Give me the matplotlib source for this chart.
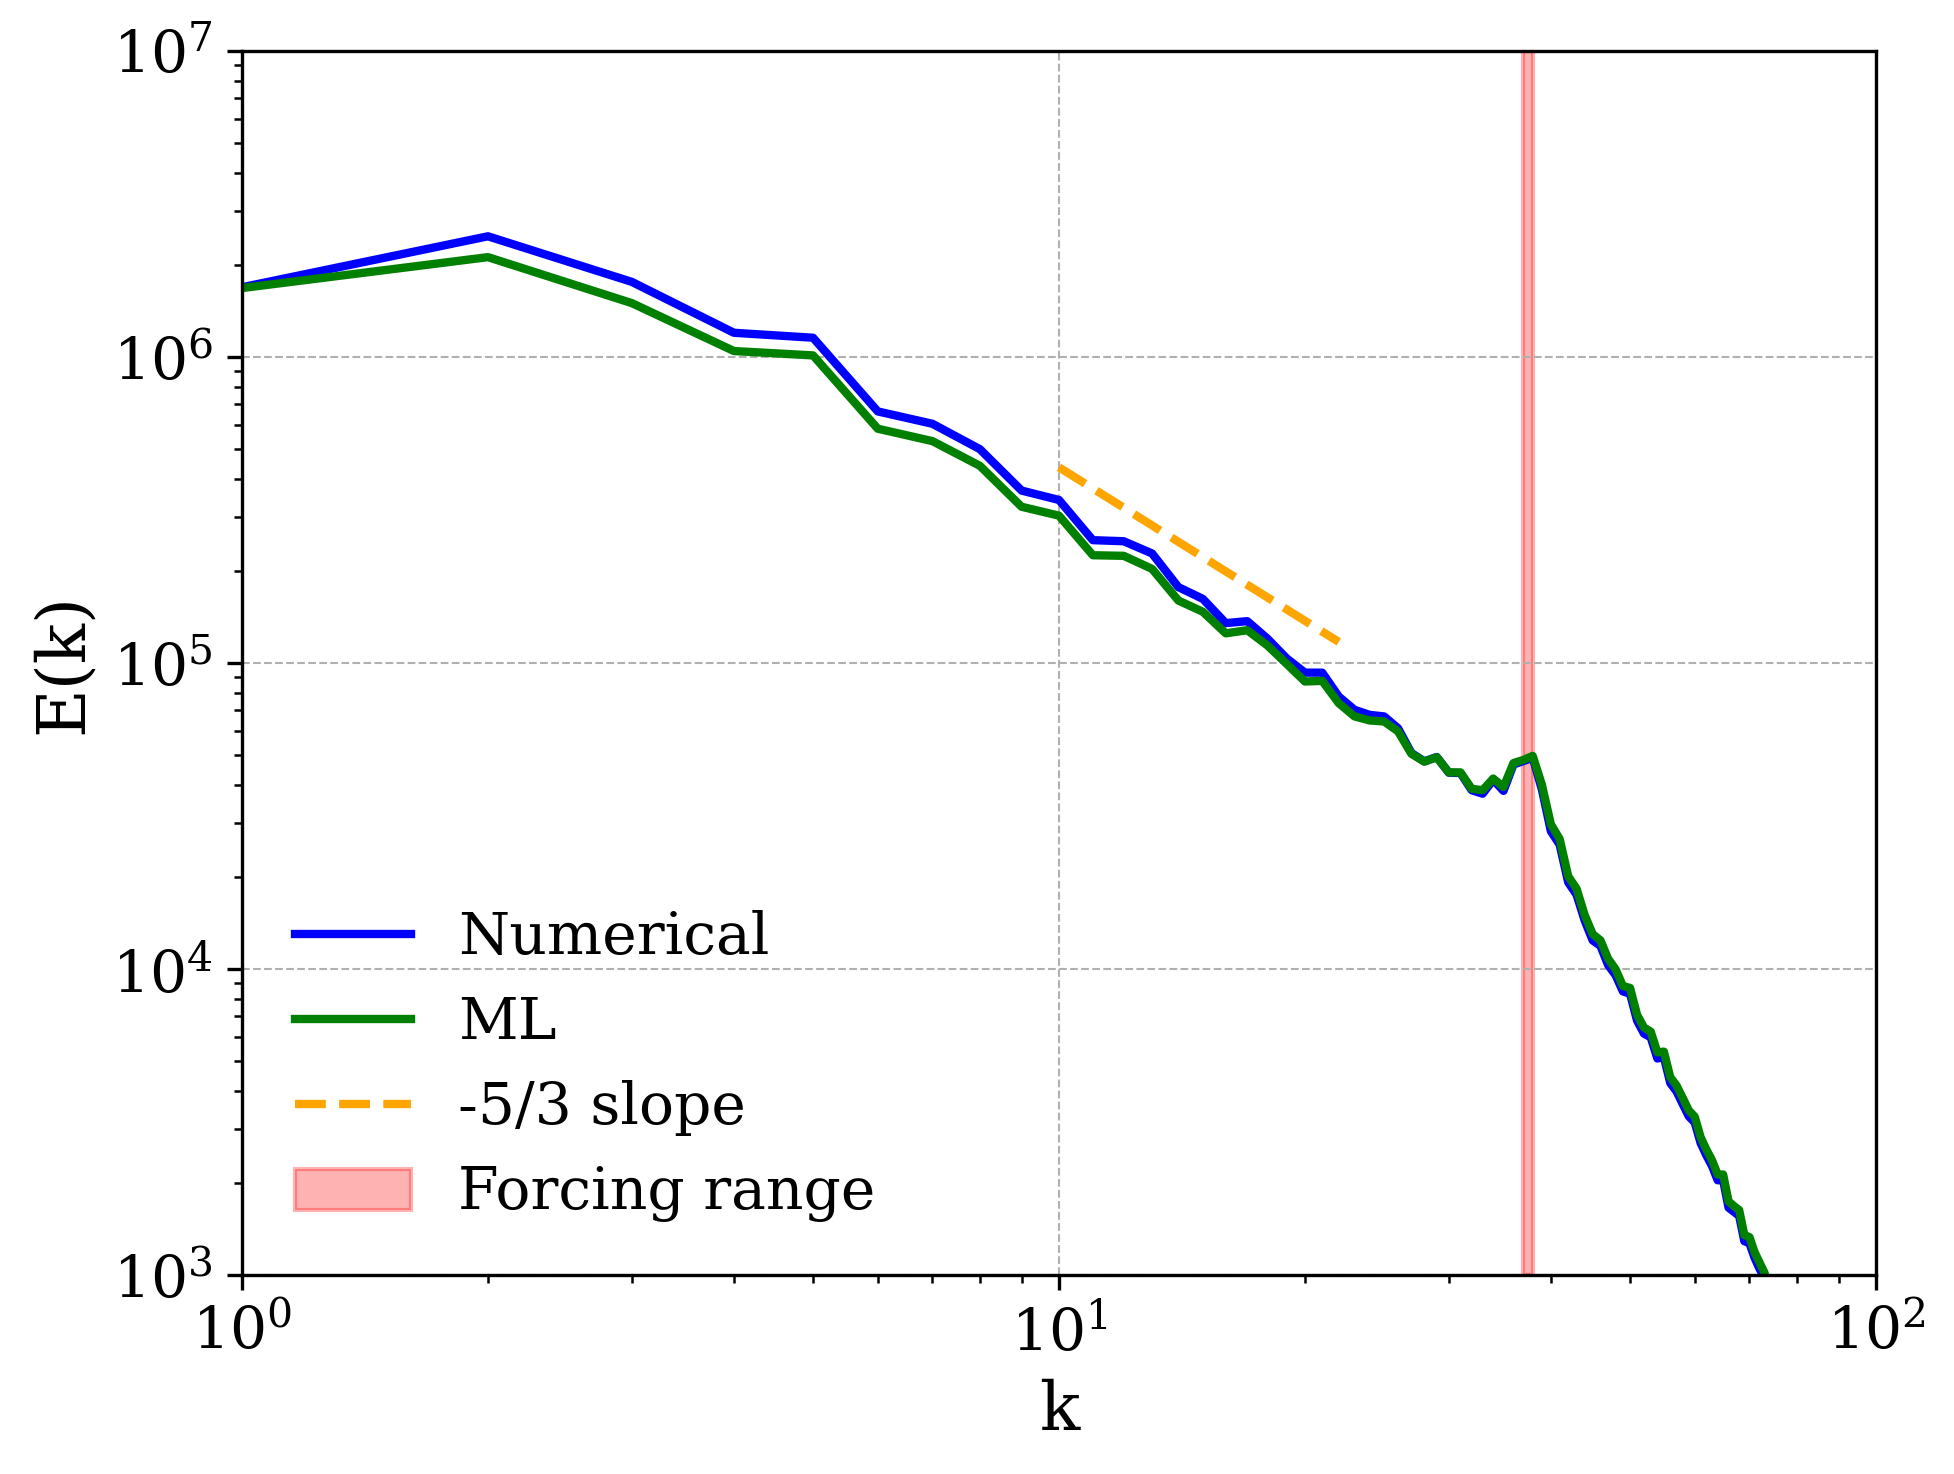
import numpy as np
import matplotlib
matplotlib.use("Agg")
import matplotlib.pyplot as plt

plt.rcParams['font.family'] = ['DejaVu Serif']
plt.rcParams['mathtext.fontset'] = 'dejavuserif'

# wavenumbers
k = np.arange(1, 76)

# ML energy spectrum E(k)
E_ml = [1.68e6, 2.12e6, 1.50e6, 1.046e6, 1.012e6, 5.83e5, 5.31e5, 4.41e5, 3.24e5, 3.03e5,
        2.25e5, 2.24e5, 2.03e5, 1.60e5, 1.47e5, 1.25e5, 1.28e5, 1.14e5, 9.93e4, 8.70e4,
        8.74e4, 7.39e4, 6.69e4, 6.49e4, 6.44e4, 5.98e4, 5.05e4, 4.76e4, 4.92e4, 4.39e4,
        4.39e4, 3.88e4, 3.84e4, 4.19e4, 3.93e4, 4.71e4, 4.82e4, 4.97e4, 4.00e4, 2.97e4,
        2.66e4, 2.01e4, 1.83e4, 1.50e4, 1.30e4, 1.24e4, 1.08e4, 9.98e3, 8.80e3, 8.67e3,
        7.08e3, 6.44e3, 6.24e3, 5.34e3, 5.37e3, 4.43e3, 4.16e3, 3.79e3, 3.45e3, 3.29e3,
        2.82e3, 2.57e3, 2.37e3, 2.13e3, 2.13e3, 1.74e3, 1.68e3, 1.63e3, 1.35e3, 1.33e3,
        1.19e3, 1.10e3, 1.02e3, 9.0e2, 8.0e2]

# Numerical energy spectrum E(k)
E_num = [1.69e6, 2.48e6, 1.76e6, 1.20e6, 1.156e6, 6.64e5, 6.05e5, 5.00e5, 3.66e5, 3.41e5,
         2.52e5, 2.50e5, 2.28e5, 1.77e5, 1.62e5, 1.35e5, 1.37e5, 1.20e5, 1.035e5, 9.30e4,
         9.30e4, 7.77e4, 7.03e4, 6.77e4, 6.69e4, 6.12e4, 5.08e4, 4.77e4, 4.93e4, 4.38e4,
         4.37e4, 3.84e4, 3.74e4, 4.15e4, 3.82e4, 4.66e4, 4.78e4, 4.90e4, 3.86e4, 2.82e4,
         2.55e4, 1.92e4, 1.75e4, 1.44e4, 1.24e4, 1.19e4, 1.03e4, 9.55e3, 8.45e3, 8.30e3,
         6.78e3, 6.15e3, 5.98e3, 5.10e3, 5.15e3, 4.24e3, 3.98e3, 3.62e3, 3.30e3, 3.15e3,
         2.70e3, 2.46e3, 2.27e3, 2.04e3, 2.04e3, 1.66e3, 1.61e3, 1.56e3, 1.29e3, 1.27e3,
         1.14e3, 1.05e3, 9.8e2, 8.6e2, 7.7e2]

# -5/3 reference line end points
slope_k = [10, 22]
slope_E = [4.36e5, 1.172e5]

# forcing range
forcing = [37, 38]

W, H, DPI = 1954, 1474, 300
fig = plt.figure(figsize=(W / DPI, H / DPI), dpi=DPI)
ax = fig.add_axes([242 / W, 1 - 1275 / H, (1876 - 242) / W, (1275 - 51) / H])

ax.loglog(k, E_num, color='blue', lw=2, label='Numerical')
ax.loglog(k, E_ml, color='green', lw=2, label='ML')
ax.loglog(slope_k, slope_E, color='orange', lw=2, ls='--', label='-5/3 slope')
ax.axvspan(forcing[0], forcing[1], color='red', alpha=0.3, label='Forcing range')

ax.set_xlim(1, 100)
ax.set_ylim(1e3, 1e7)
ax.set_xlabel('k', fontsize=16)
ax.set_ylabel('E(k)', fontsize=16)
ax.tick_params(axis='both', which='major', labelsize=14)
ax.grid(True, which='major', ls='--', lw=0.5, color='#b0b0b0')
ax.legend(loc='lower left', frameon=False, fontsize=14)

fig.savefig('out.png', dpi=DPI)
